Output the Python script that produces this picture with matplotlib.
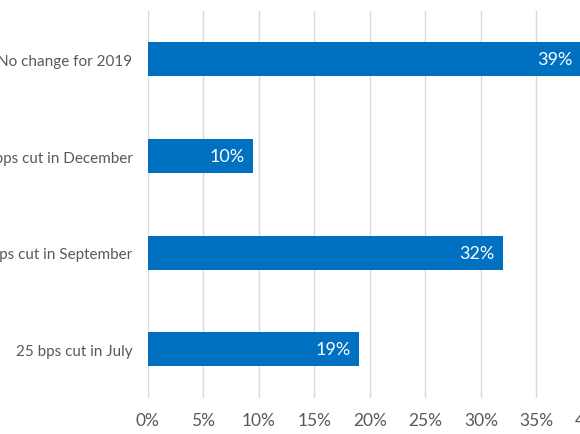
import matplotlib
matplotlib.use("Agg")
import matplotlib.pyplot as plt

categories = ["25 bps cut in July", "25 bps cut in September", "25 bps cut in December", "No change for 2019"]
values = [19, 32, 9.5, 39]
value_labels = ["19%", "32%", "10%", "39%"]
xticks = [0, 5, 10, 15, 20, 25, 30, 35, 40]
xtick_labels = [f"{t}%" for t in xticks]

plt.rcParams['font.family'] = ['Lato', 'DejaVu Sans']
text_color = "#595959"
bar_color = "#0070C0"

fig = plt.figure(figsize=(5.8, 4.35), dpi=100)
ax = fig.add_axes([147.7/580, (435-398.7)/435, (592-147.7)/580, 386.7/435])

ypos = list(range(len(categories)))
ax.barh(ypos, values, height=0.35, color=bar_color, zorder=3)
for y, v, lab in zip(ypos, values, value_labels):
    ax.text(v - 0.75, y, lab, color="white", ha="right", va="center", fontsize=13, zorder=4)

ax.set_xlim(0, 40)
ax.set_ylim(-0.5, 3.5)
ax.set_xticks(xticks)
ax.set_xticklabels(xtick_labels)
ax.set_yticks(ypos)
ax.set_yticklabels(categories)
ax.tick_params(axis='both', length=0, labelcolor=text_color)
ax.tick_params(axis='x', labelsize=12.5, pad=10)
ax.tick_params(axis='y', labelsize=11, pad=11)
ax.grid(axis='x', color="#d9d9d9", linewidth=1, zorder=0)
for s in ax.spines.values():
    s.set_visible(False)

fig.savefig("out.png", dpi=100)
